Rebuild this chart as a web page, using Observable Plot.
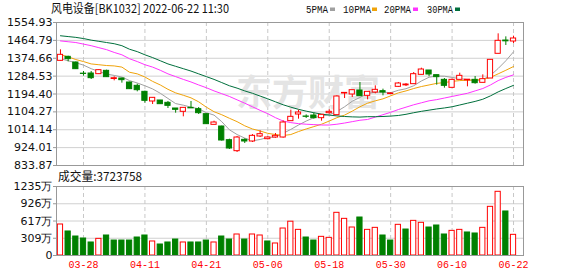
<!DOCTYPE html>
<html><head><meta charset="utf-8">
<script src="https://cdn.jsdelivr.net/npm/d3@7"></script>
<script src="https://cdn.jsdelivr.net/npm/@observablehq/plot@0.6"></script>
<style>
body{margin:0;background:#fff}
#wrap{position:relative;width:578px;height:276px;overflow:hidden;background:#fff}
#wrap > *{position:absolute;left:0}
</style></head><body>
<div id="wrap"></div>
<script>
const dates=["03-23","03-24","03-25","03-28","03-29","03-30","03-31","04-01","04-06","04-07","04-08","04-11","04-12","04-13","04-14","04-15","04-18","04-19","04-20","04-21","04-22","04-25","04-26","04-27","04-28","04-29","05-05","05-06","05-09","05-10","05-11","05-12","05-13","05-16","05-17","05-18","05-19","05-20","05-23","05-24","05-25","05-26","05-27","05-30","05-31","06-01","06-02","06-06","06-07","06-08","06-09","06-10","06-13","06-14","06-15","06-16","06-17","06-20","06-21","06-22"];
const open=[1361.6,1381.8,1353.2,1297.0,1297.8,1294.4,1311.2,1270.0,1272.5,1252.4,1235.6,1205.3,1156.6,1161.6,1149.9,1121.3,1104.5,1124.6,1117.9,1092.7,1038.9,1030.5,961.6,906.1,963.3,954.9,980.1,966.6,975.0,975.0,1057.4,1091.0,1081.0,1086.0,1072.5,1097.7,1087.7,1197.0,1191.9,1212.0,1185.2,1201.9,1208.7,1194.0,1230.5,1238.0,1244.0,1291.0,1312.9,1289.4,1265.8,1225.5,1265.8,1263.0,1265.8,1250.7,1272.5,1397.0,1464.0,1459.1];
const high=[1417.1,1385.0,1356.0,1307.9,1307.9,1316.0,1314.6,1281.0,1274.0,1254.1,1244.0,1208.7,1175.1,1162.0,1156.6,1121.3,1124.6,1156.6,1126.3,1094.4,1057.4,1032.2,966.6,980.1,968.3,990.2,1008.7,978.4,995.2,1059.1,1112.9,1112.9,1089.3,1097.7,1089.3,1114.6,1185.2,1200.5,1213.7,1252.4,1205.3,1235.6,1218.8,1200.0,1252.4,1247.0,1302.8,1324.7,1312.9,1289.4,1272.5,1269.2,1299.4,1267.0,1282.6,1291.0,1366.7,1497.8,1482.6,1486.0];
const low=[1360.0,1356.6,1318.0,1284.3,1267.5,1292.7,1277.6,1260.8,1249.0,1217.1,1205.3,1148.2,1141.4,1142.0,1121.3,1097.7,1079.3,1121.3,1091.0,1040.6,1038.9,956.6,914.5,899.4,944.8,949.8,975.0,963.3,971.7,971.7,1057.4,1067.5,1070.9,1067.5,1057.4,1092.7,1087.7,1171.7,1176.8,1183.5,1165.0,1195.2,1185.2,1192.0,1227.2,1232.0,1244.0,1291.0,1281.0,1238.9,1223.8,1225.5,1265.8,1230.5,1244.0,1250.7,1272.5,1397.0,1439.0,1449.0];
const close=[1391.9,1370.0,1319.6,1295.5,1274.2,1314.6,1279.3,1274.0,1264.2,1218.8,1213.7,1160.0,1175.1,1143.1,1134.7,1114.6,1124.6,1122.0,1097.7,1042.3,1050.7,959.9,919.6,975.0,954.9,983.5,991.8,975.0,983.5,1050.7,1079.3,1101.0,1079.3,1072.5,1089.3,1104.5,1181.8,1200.0,1213.7,1183.5,1205.3,1215.4,1201.9,1197.0,1247.4,1242.0,1294.4,1317.9,1292.7,1279.3,1235.6,1265.8,1286.0,1266.5,1249.0,1269.2,1366.7,1462.5,1460.0,1474.3];
const prevClose=1350;
const vol=[555,430,340,304,233,298,358,268,268,268,322,358,251,197,233,286,233,233,233,268,233,340,286,376,286,376,358,251,215,483,605,459,322,268,334,316,764,656,501,680,459,495,358,268,549,465,620,585,501,537,376,441,459,412,394,495,871,1140,788,370];
const ma5=[1372,1362,1352,1340,1322,1308,1295,1288,1280,1262,1250,1236,1220,1198,1172,1146,1138,1128,1120,1100,1088,1055,1014,990,972,958,965,975,978,996,1016,1038,1058,1075,1084,1090,1106,1130,1158,1177,1197,1203,1204,1201,1213,1221,1236,1260,1279,1285,1284,1278,1272,1267,1261,1267,1288,1323,1362,1407];
const ma10=[1392,1382,1368,1358,1346,1342,1338,1336,1330,1304,1296,1280,1258,1240,1218,1200,1188,1175,1155,1128,1105,1090,1072,1055,1034,1018,1008,996,990,985,990,1005,1018,1030,1042,1058,1075,1088,1108,1130,1148,1160,1170,1185,1200,1210,1222,1232,1240,1248,1252,1258,1262,1264,1265,1268,1278,1296,1314,1333];
const ma20=[1462,1458,1454,1446,1438,1428,1418,1404,1392,1372,1358,1342,1330,1314,1296,1282,1268,1255,1240,1226,1210,1196,1182,1165,1148,1130,1112,1095,1075,1058,1050,1045,1042,1040,1038,1038,1042,1048,1055,1062,1066,1078,1090,1102,1116,1128,1140,1150,1160,1166,1174,1182,1190,1198,1210,1222,1240,1262,1278,1291];
const ma30=[1488,1484,1480,1474,1466,1460,1454,1448,1438,1420,1408,1392,1378,1362,1346,1334,1322,1310,1296,1282,1268,1252,1236,1224,1210,1198,1184,1170,1155,1140,1128,1117,1108,1100,1093,1088,1084,1081,1079,1078,1080,1080,1081,1083,1086,1092,1100,1107,1113,1119,1124,1130,1139,1148,1157,1168,1185,1205,1222,1238];
const maNames=["5PMA","10PMA","20PMA","30PMA"];
const maColors=["#a0a0a0","#f0a30a","#ff33ff","#006f3c"];
const priceTicks=[833.87,924.01,1014.14,1104.27,1194.40,1284.53,1374.66,1464.79,1554.93];
const volTicks=[0,309,617,926,1235];
const volTickLabels=["0","309万","617万","926万","1235万"];
const titleText="风电设备[BK1032] 2022-06-22 11:30";
const volTitle="成交量:3723758";
const firstLabel=3, labelEvery=8;

const RED="#ff0000", GREEN="#008000";
const xDomain=[-0.516,60.3];
const bars=dates.map((d,i)=>({i,date:d,open:open[i],high:high[i],low:low[i],close:close[i],vol:vol[i],
  up:close[i]>=open[i], volUp:close[i]>=(i?close[i-1]:prevClose)}));
const xTicks=d3.range(firstLabel,dates.length,labelEvery);
const mas=[ma5,ma10,ma20,ma30];
const hw=0.34;

const baseStyle={fontFamily:"DejaVu Sans",fontSize:"11px",background:"transparent",color:"#111",overflow:"visible"};

const topPlot=Plot.plot({
  width:578,height:170,marginTop:22,marginBottom:5,marginLeft:56,marginRight:55,
  style:baseStyle,
  x:{domain:xDomain,axis:null,label:null},
  y:{domain:[833.87,1554.93],axis:null,label:null},
  marks:[
    Plot.gridY(priceTicks,{stroke:"#d0d0d0",strokeOpacity:1}),
    Plot.gridX(xTicks,{stroke:"#c8c8c8",strokeOpacity:1,strokeDasharray:"4,3"}),
    Plot.text(["东方财富"],{text:d=>d,frameAnchor:"middle",dx:18,dy:0,fontSize:36,fill:"#e4e4e4",fontFamily:"Noto Sans CJK SC",fontWeight:"bold"}),
    ...mas.map((m,k)=>Plot.line(m,{x:(d,i)=>i,y:d=>d,stroke:maColors[k],strokeWidth:1})),
    Plot.ruleX(bars,{filter:d=>d.up,x:"i",y1:"low",y2:"high",stroke:RED}),
    Plot.ruleX(bars,{filter:d=>!d.up,x:"i",y1:"low",y2:"high",stroke:GREEN}),
    Plot.rect(bars,{filter:d=>d.up,x1:d=>d.i-hw,x2:d=>d.i+hw,y1:"open",y2:"close",fill:"#fff",stroke:RED}),
    Plot.rect(bars,{filter:d=>!d.up,x1:d=>d.i-hw,x2:d=>d.i+hw,y1:"open",y2:"close",fill:GREEN,stroke:GREEN}),
    Plot.frame({stroke:"#999"}),
    Plot.axisY(priceTicks,{label:null,tickSize:3,tickPadding:1,stroke:"#999",fill:"#111",tickFormat:d=>d.toFixed(2),fontSize:11,fontFamily:"DejaVu Sans"})
  ]
});

const volPlot=Plot.plot({
  width:578,height:106,marginTop:16,marginBottom:21,marginLeft:56,marginRight:55,
  style:baseStyle,
  x:{domain:xDomain,axis:null,label:null},
  y:{domain:[0,1235],axis:null,label:null},
  marks:[
    Plot.gridY(volTicks,{stroke:"#d0d0d0",strokeOpacity:1}),
    Plot.gridX(xTicks,{stroke:"#c8c8c8",strokeOpacity:1,strokeDasharray:"4,3"}),
    Plot.rect(bars,{filter:d=>d.volUp,x1:d=>d.i-hw,x2:d=>d.i+hw,y1:0,y2:"vol",fill:"#fff",stroke:RED}),
    Plot.rect(bars,{filter:d=>!d.volUp,x1:d=>d.i-hw,x2:d=>d.i+hw,y1:0,y2:"vol",fill:GREEN,stroke:GREEN}),
    Plot.frame({stroke:"#999"}),
    Plot.axisY(volTicks,{label:null,tickSize:3,tickPadding:1,stroke:"#999",fill:"#111",tickFormat:d=>volTickLabels[volTicks.indexOf(d)],fontSize:11,fontFamily:"DejaVu Sans"}),
    Plot.axisX(xTicks,{label:null,tickSize:0,tickPadding:5,tickFormat:i=>dates[i],fill:RED,fontFamily:"Liberation Mono",fontSize:10})
  ]
});

const wrap=document.getElementById("wrap");
topPlot.style.top="0px";
volPlot.style.top="170px";
wrap.appendChild(topPlot);
wrap.appendChild(volPlot);

const hdr=d3.create("svg").attr("width",578).attr("height",276).style("position","absolute").style("top","0px").style("left","0px").style("pointer-events","none");
hdr.append("text").attr("x",51).attr("y",13).attr("font-family","Noto Sans CJK SC").attr("font-size",12)
  .attr("textLength",178).attr("lengthAdjust","spacingAndGlyphs").attr("fill","#111").text(titleText);
const legX=[306,343,384,427], legW=[22,28,27,26], chipX=[330,372,413,455];
maNames.forEach((n,k)=>{
  hdr.append("text").attr("x",legX[k]).attr("y",12.5).attr("font-family","Liberation Mono").attr("font-size",10)
    .attr("textLength",legW[k]).attr("lengthAdjust","spacingAndGlyphs").attr("fill","#111").text(n);
  hdr.append("rect").attr("x",chipX[k]).attr("y",7.5).attr("width",5).attr("height",3.5).attr("fill",maColors[k]);
});
hdr.append("text").attr("x",58).attr("y",181).attr("font-family","Noto Sans CJK SC").attr("font-size",12)
  .attr("textLength",84).attr("lengthAdjust","spacingAndGlyphs").attr("fill","#111").text(volTitle);
wrap.appendChild(hdr.node());
</script>
</body></html>
